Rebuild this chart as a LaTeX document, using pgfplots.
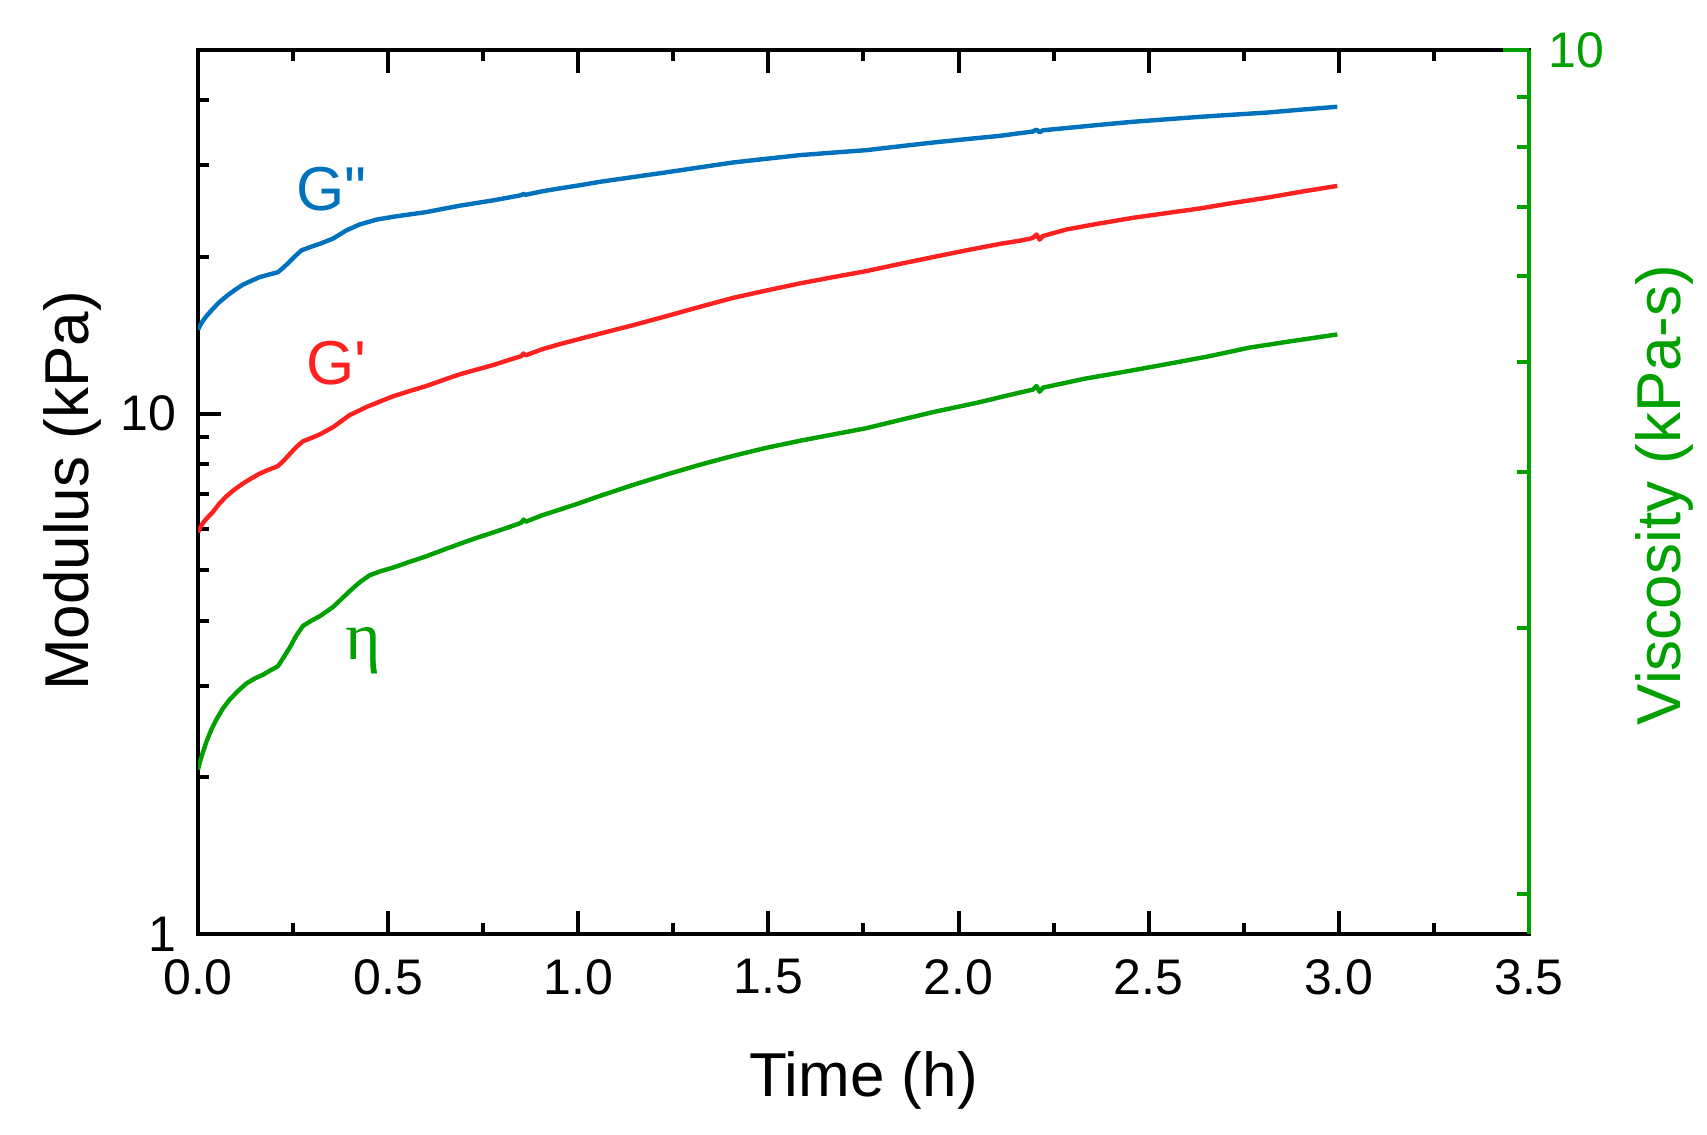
\documentclass[border=0pt]{standalone}
\usepackage{fontspec}
\setmainfont{Liberation Sans}
\newfontfamily\lsans{Liberation Sans}
\newfontfamily\lserif{Liberation Serif}
\usepackage{pgfplots}
\pgfplotsset{compat=1.18}
\definecolor{cblue}{RGB}{0,114,189}
\definecolor{cred}{RGB}{255,32,32}
\definecolor{cgreen}{RGB}{0,160,0}
\begin{document}
\begin{tikzpicture}
\useasboundingbox (-49.5pt,-50.25pt) rectangle (377.25pt,233.5pt);
\begin{axis}[
  at={(0pt,0pt)}, anchor=south west,
  scale only axis, width=332.75pt, height=221pt,
  xmin=0, xmax=3.5, ymode=log, ymin=1, ymax=50,
  xtick={0,0.5,1,1.5,2,2.5,3,3.5}, minor x tick num=1,
  ytick={1,10}, yticklabels={1,10},
  minor ytick={2,3,4,5,6,7,8,9,20,30,40},
  ytick pos=left, xtick pos=both,
  tick align=inside,
  major tick length=5.7pt, minor tick length=2.75pt,
  every tick/.style={black, line width=1pt},
  axis line style={line width=1pt},
  /pgf/number format/assume math mode=true,
  tick label style={font=\fontsize{12.5}{15}\selectfont},
  xticklabel style={yshift=-2.8pt, /pgf/number format/.cd, fixed, fixed zerofill, precision=1},
  yticklabel style={xshift=-2pt},
]
\addplot[cblue, line width=1.1pt, line join=round] coordinates {
(0,14.5) (0.005,14.75) (0.012,15.05) (0.022,15.4) (0.039,15.9) (0.055,16.35) (0.074,16.8) (0.095,17.25) (0.118,17.7) (0.14,18.0) (0.162,18.3) (0.185,18.5) (0.21,18.7) (0.225,19.1) (0.241,19.6) (0.256,20.1) (0.272,20.6) (0.295,20.9) (0.32,21.2) (0.355,21.7) (0.39,22.5) (0.425,23.1) (0.469,23.6) (0.513,23.9) (0.556,24.15) (0.60,24.4) (0.644,24.75) (0.688,25.1) (0.732,25.4) (0.776,25.7) (0.82,26.05) (0.85,26.3) (0.856,26.45) (0.862,26.35) (0.905,26.75) (0.951,27.1) (1.0,27.45) (1.057,27.9) (1.145,28.5) (1.232,29.1) (1.32,29.75) (1.408,30.4) (1.495,30.9) (1.583,31.4) (1.67,31.75) (1.758,32.1) (1.845,32.65) (1.933,33.2) (2.02,33.7) (2.109,34.2) (2.161,34.6) (2.195,34.85) (2.205,35.15) (2.213,34.75) (2.222,35.05) (2.284,35.4) (2.37,35.9) (2.46,36.4) (2.548,36.8) (2.635,37.2) (2.72,37.55) (2.81,37.9) (2.9,38.4) (2.996,38.9)
};
\addplot[cred, line width=1.1pt, line join=round] coordinates {
(0,5.92) (0.005,6.02) (0.012,6.15) (0.022,6.28) (0.039,6.47) (0.055,6.7) (0.074,6.93) (0.095,7.14) (0.118,7.34) (0.14,7.51) (0.162,7.67) (0.185,7.8) (0.21,7.93) (0.225,8.12) (0.241,8.36) (0.258,8.62) (0.276,8.85) (0.298,8.98) (0.32,9.12) (0.355,9.42) (0.399,9.94) (0.443,10.3) (0.478,10.55) (0.513,10.8) (0.556,11.05) (0.60,11.3) (0.644,11.6) (0.688,11.9) (0.732,12.15) (0.776,12.4) (0.82,12.7) (0.85,12.9) (0.856,13.05) (0.862,12.95) (0.905,13.3) (0.951,13.6) (1.0,13.9) (1.057,14.25) (1.145,14.8) (1.232,15.4) (1.32,16.05) (1.408,16.7) (1.495,17.25) (1.583,17.8) (1.67,18.3) (1.758,18.8) (1.845,19.4) (1.933,20.0) (2.02,20.6) (2.109,21.2) (2.161,21.5) (2.195,21.75) (2.205,22.1) (2.213,21.6) (2.222,21.95) (2.284,22.6) (2.37,23.2) (2.46,23.8) (2.548,24.3) (2.635,24.8) (2.72,25.4) (2.81,26.0) (2.9,26.7) (2.996,27.4)
};
\addplot[cgreen, line width=1.1pt, line join=round] coordinates {
(0,2.07) (0.005,2.14) (0.01,2.2) (0.022,2.34) (0.035,2.47) (0.048,2.58) (0.065,2.71) (0.083,2.82) (0.105,2.93) (0.127,3.03) (0.15,3.1) (0.171,3.15) (0.19,3.21) (0.21,3.27) (0.225,3.4) (0.241,3.55) (0.258,3.74) (0.276,3.91) (0.298,4.0) (0.32,4.08) (0.355,4.25) (0.399,4.56) (0.425,4.74) (0.451,4.89) (0.48,4.98) (0.513,5.06) (0.556,5.19) (0.60,5.32) (0.644,5.47) (0.688,5.62) (0.732,5.77) (0.776,5.91) (0.82,6.06) (0.85,6.17) (0.856,6.26) (0.862,6.2) (0.905,6.38) (0.951,6.54) (1.0,6.72) (1.057,6.95) (1.145,7.3) (1.232,7.64) (1.32,7.98) (1.408,8.3) (1.495,8.6) (1.583,8.87) (1.67,9.12) (1.758,9.38) (1.845,9.72) (1.933,10.07) (2.05,10.5) (2.161,10.98) (2.195,11.12) (2.205,11.3) (2.213,11.02) (2.222,11.22) (2.328,11.66) (2.44,12.05) (2.547,12.45) (2.66,12.9) (2.766,13.4) (2.88,13.8) (2.996,14.2)
};
\node[anchor=base, text=cblue, font={\lsans\fontsize{15.5}{18}\selectfont}] at (axis cs:0.352,24.6) {G"};
\node[anchor=base, text=cred, font={\lsans\fontsize{15.5}{18}\selectfont}] at (axis cs:0.363,11.37) {G'};
\node[anchor=base, text=cgreen, font={\lserif\fontsize{17}{20}\selectfont}] at (axis cs:0.434,3.37) {η};
\end{axis}
\begin{axis}[
  at={(0pt,0pt)}, anchor=south west,
  scale only axis, width=332.75pt, height=221pt,
  xmin=0, xmax=3.5, ymin=0, ymax=1,
  hide x axis, axis y line*=right,
  ytick={1}, yticklabels={10},
  minor ytick={0.0453,0.3465,0.5221,0.6467,0.7440,0.8222,0.8901,0.9468},
  tick align=inside,
  major tick length=6.5pt, minor tick length=3pt,
  every tick/.style={cgreen, line width=1pt},
  y axis line style={cgreen, line width=1pt},
  yticklabel style={text=cgreen, xshift=1.4pt, font=\fontsize{12.5}{15}\selectfont},
]
\addplot[draw=none] coordinates {(0,0.5)};
\end{axis}
\node[anchor=base, font=\fontsize{15.5}{18}\selectfont] at (166.375pt,-40.75pt) {Time (h)};
\node[rotate=90, anchor=base, font=\fontsize{15.5}{18}\selectfont] at (-27.25pt,110.75pt) {Modulus (kPa)};
\node[rotate=90, anchor=base, text=cgreen, font=\fontsize{15.5}{18}\selectfont] at (370.5pt,109.75pt) {Viscosity (kPa-s)};
\end{tikzpicture}
\end{document}
